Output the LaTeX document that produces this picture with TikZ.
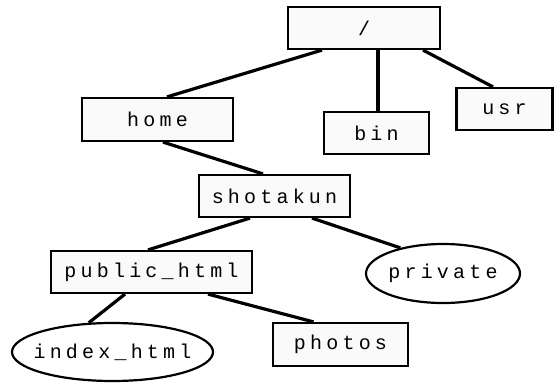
\documentclass[tikz,border=0pt]{standalone}
\usepackage{fontspec}
\setmonofont[LetterSpace=21]{Liberation Mono}
\usetikzlibrary{shapes.geometric}
\begin{document}
\begin{tikzpicture}[x=1pt, y=-1pt,
  dir/.style = {draw, line width=2.2pt, fill=black!2, inner sep=0pt,
    font=\ttfamily\fontsize{20}{24}\selectfont},
  file/.style = {dir, ellipse, fill=white, inner xsep=-30pt},
  link/.style = {line width=3.2pt}]
\useasboundingbox (0,0) rectangle (554,383);
\node [dir, minimum width=152, minimum height=42] (root) at (364,28) {/};
\node [dir, minimum width=151, minimum height=43] (home) at (157.5,119.5) {home};
\node [dir, minimum width=105, minimum height=42] (bin) at (376.5,133) {bin};
\node [dir, minimum width=96, minimum height=42] (usr) at (504.5,109) {usr};
\node [dir, minimum width=151, minimum height=42] (shotakun) at (274.5,196) {shotakun};
\node [dir, minimum width=201, minimum height=42] (pub) at (151.5,272) {public\_html};
\node [file, minimum width=154, minimum height=59] (private) at (443,273.5) {private};
\node [file, minimum width=201, minimum height=58] (index) at (112.5,352) {index\_html};
\node [dir, minimum width=135, minimum height=43] (photos) at (340.5,344.5) {photos};
% links
\draw [link] ([xshift=-42pt]root.south) -- ([xshift=9.5pt]home.north);
\draw [link] ([xshift=14pt]root.south) -- ([xshift=1.5pt]bin.north);
\draw [link] ([xshift=59pt]root.south) -- ([xshift=-11.5pt]usr.north);
\draw [link] ([xshift=5.5pt]home.south) -- ([xshift=-11.5pt]shotakun.north);
\draw [link] ([xshift=-24.5pt]shotakun.south) -- ([xshift=-3.5pt]pub.north);
\draw [link] ([xshift=37.5pt]shotakun.south) -- (private.149);
\draw [link] ([xshift=-26.5pt]pub.south) -- (index.129);
\draw [link] ([xshift=56.5pt]pub.south) -- ([xshift=-27pt]photos.north);
\end{tikzpicture}
\end{document}
